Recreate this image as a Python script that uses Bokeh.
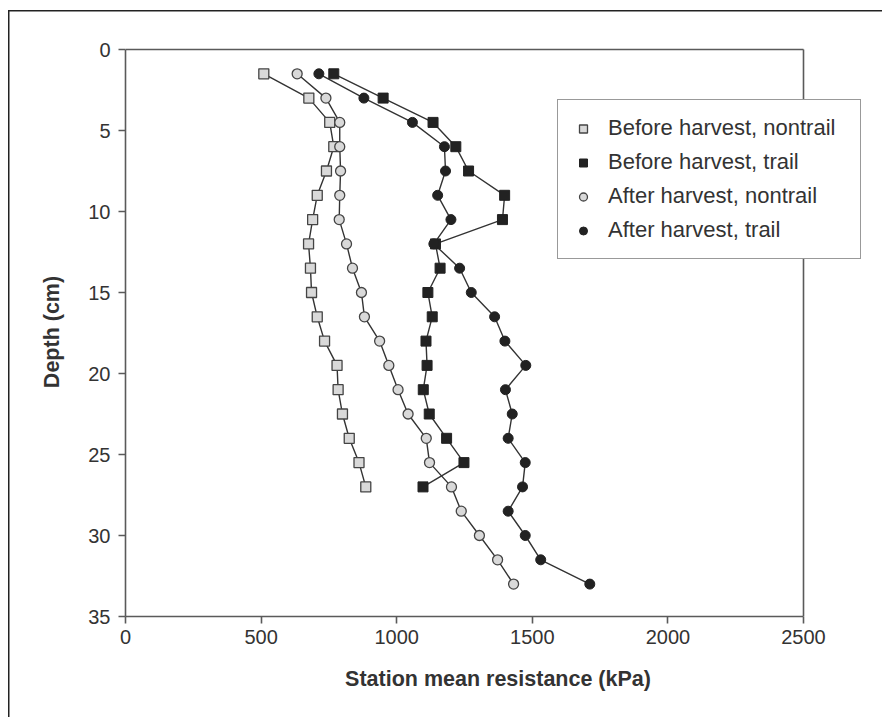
from bokeh.plotting import figure
from bokeh.models import Range1d, FixedTicker, Legend, LegendItem
from bokeh.embed import file_html
from bokeh.resources import INLINE

# Sampling depths (cm)
depth_before = [1.5, 3.0, 4.5, 6.0, 7.5, 9.0, 10.5, 12.0, 13.5, 15.0, 16.5, 18.0,
                19.5, 21.0, 22.5, 24.0, 25.5, 27.0]
depth_after = [1.5, 3.0, 4.5, 6.0, 7.5, 9.0, 10.5, 12.0, 13.5, 15.0, 16.5, 18.0,
               19.5, 21.0, 22.5, 24.0, 25.5, 27.0, 28.5, 30.0, 31.5, 33.0]

# Station mean resistance (kPa)
before_nontrail = [510, 676, 753, 768, 741, 707, 690, 675, 682, 686, 707, 734,
                   780, 784, 800, 825, 861, 886]
before_trail = [768, 950, 1134, 1218, 1265, 1398, 1390, 1143, 1160, 1115, 1131, 1108,
                1112, 1098, 1120, 1184, 1248, 1097]
after_nontrail = [633, 739, 790, 790, 793, 790, 788, 815, 837, 870, 881, 937,
                  971, 1005, 1042, 1109, 1121, 1202, 1238, 1305, 1372, 1431]
after_trail = [713, 879, 1058, 1176, 1180, 1151, 1200, 1137, 1232, 1275, 1361, 1399,
               1476, 1401, 1426, 1411, 1474, 1464, 1411, 1474, 1531, 1712]

x_ticks = [0, 500, 1000, 1500, 2000, 2500]
y_ticks = [0, 5, 10, 15, 20, 25, 30, 35]

FONT = "Liberation Sans"
INK = "#333333"
AXIS = "#5a5a5a"

# Axes box is 678 x 567 px; the drawing frame runs a little further right
# (so the legend may overhang the box) and 2 px higher (room for the top rule).
BOX_W, BOX_H = 678, 567
FRAME_W, FRAME_H = 745, 569
x_lo, x_hi = x_ticks[0], x_ticks[-1]
y_top, y_bot = y_ticks[0], y_ticks[-1]
x_end = x_lo + (x_hi - x_lo) * FRAME_W / BOX_W
y_pad = (y_bot - y_top) * (FRAME_H - BOX_H) / BOX_H

p = figure(width=882, height=717, output_backend="svg", toolbar_location=None,
           x_range=Range1d(x_lo, x_end), y_range=Range1d(y_bot, y_top - y_pad),
           min_border_left=125, min_border_right=882 - 125 - FRAME_W,
           min_border_top=47, min_border_bottom=717 - 47 - FRAME_H)

# thin rules along the left and top of the page
p.border_fill_alpha = 0
p.styles = {
    "background": ("linear-gradient(#222222, #222222) 8px 10px / 1.5px 100% no-repeat, "
                   "linear-gradient(#222222, #222222) 8px 10px / 100% 1.5px no-repeat, "
                   "#ffffff"),
}

p.background_fill_color = "white"
p.outline_line_color = None
p.xgrid.visible = False
p.ygrid.visible = False

for ax, ticks in ((p.xaxis, x_ticks), (p.yaxis, y_ticks)):
    ax.ticker = FixedTicker(ticks=ticks)
    ax.bounds = (ticks[0], ticks[-1])
    ax.axis_line_color = AXIS
    ax.axis_line_width = 1.6
    ax.major_tick_line_color = AXIS
    ax.major_tick_line_width = 1.6
    ax.major_tick_in = 0
    ax.major_tick_out = 7
    ax.minor_tick_in = 0
    ax.minor_tick_out = 0
    ax.major_label_text_font = FONT
    ax.major_label_text_font_size = "20px"
    ax.major_label_text_color = INK
    ax.axis_label_text_font = FONT
    ax.axis_label_text_font_size = "21.5px"
    ax.axis_label_text_font_style = "bold"
    ax.axis_label_text_color = INK

p.xaxis.axis_label = "Station mean resistance (kPa)"
p.yaxis.axis_label = "Depth (cm)"
p.xaxis.major_label_standoff = 6
p.yaxis.major_label_standoff = 8
p.xaxis.axis_label_standoff = 20
p.yaxis.axis_label_standoff = 21

# top and right edges of the axes box
BOX = dict(line_color=AXIS, line_width=1.6)
p.segment(x0=[x_lo], y0=[y_top], x1=[x_hi], y1=[y_top], **BOX)
p.segment(x0=[x_hi], y0=[y_top], x1=[x_hi], y1=[y_bot], **BOX)

LINE = dict(line_color="#333333", line_width=1.4)
p.line(before_nontrail, depth_before, **LINE)
p.line(after_nontrail, depth_after, **LINE)
p.line(before_trail, depth_before, **LINE)
p.line(after_trail, depth_after, **LINE)

r_bn = p.scatter(before_nontrail, depth_before, marker="square", size=10,
                 fill_color="#d9d9d9", line_color="#444444", line_width=1.3)
r_an = p.scatter(after_nontrail, depth_after, marker="circle", size=10,
                 fill_color="#d9d9d9", line_color="#444444", line_width=1.3)
r_bt = p.scatter(before_trail, depth_before, marker="square", size=10,
                 fill_color="#222222", line_color="#222222", line_width=1.0)
r_at = p.scatter(after_trail, depth_after, marker="circle", size=10,
                 fill_color="#222222", line_color="#222222", line_width=1.0)

legend = Legend(
    items=[
        LegendItem(label="Before harvest, nontrail", renderers=[r_bn]),
        LegendItem(label="Before harvest, trail", renderers=[r_bt]),
        LegendItem(label="After harvest, nontrail", renderers=[r_an]),
        LegendItem(label="After harvest, trail", renderers=[r_at]),
    ],
    location=(432, 357),
    padding=15, spacing=8,
    glyph_height=25, glyph_width=20,
    label_height=25, label_width=237, label_standoff=15,
    label_text_font=FONT, label_text_font_size="22px", label_text_color=INK,
    border_line_color="#333333", border_line_width=1.4,
    background_fill_color="white", background_fill_alpha=1.0,
)
p.add_layout(legend)

open("out.html", "w").write(file_html(p, INLINE))
